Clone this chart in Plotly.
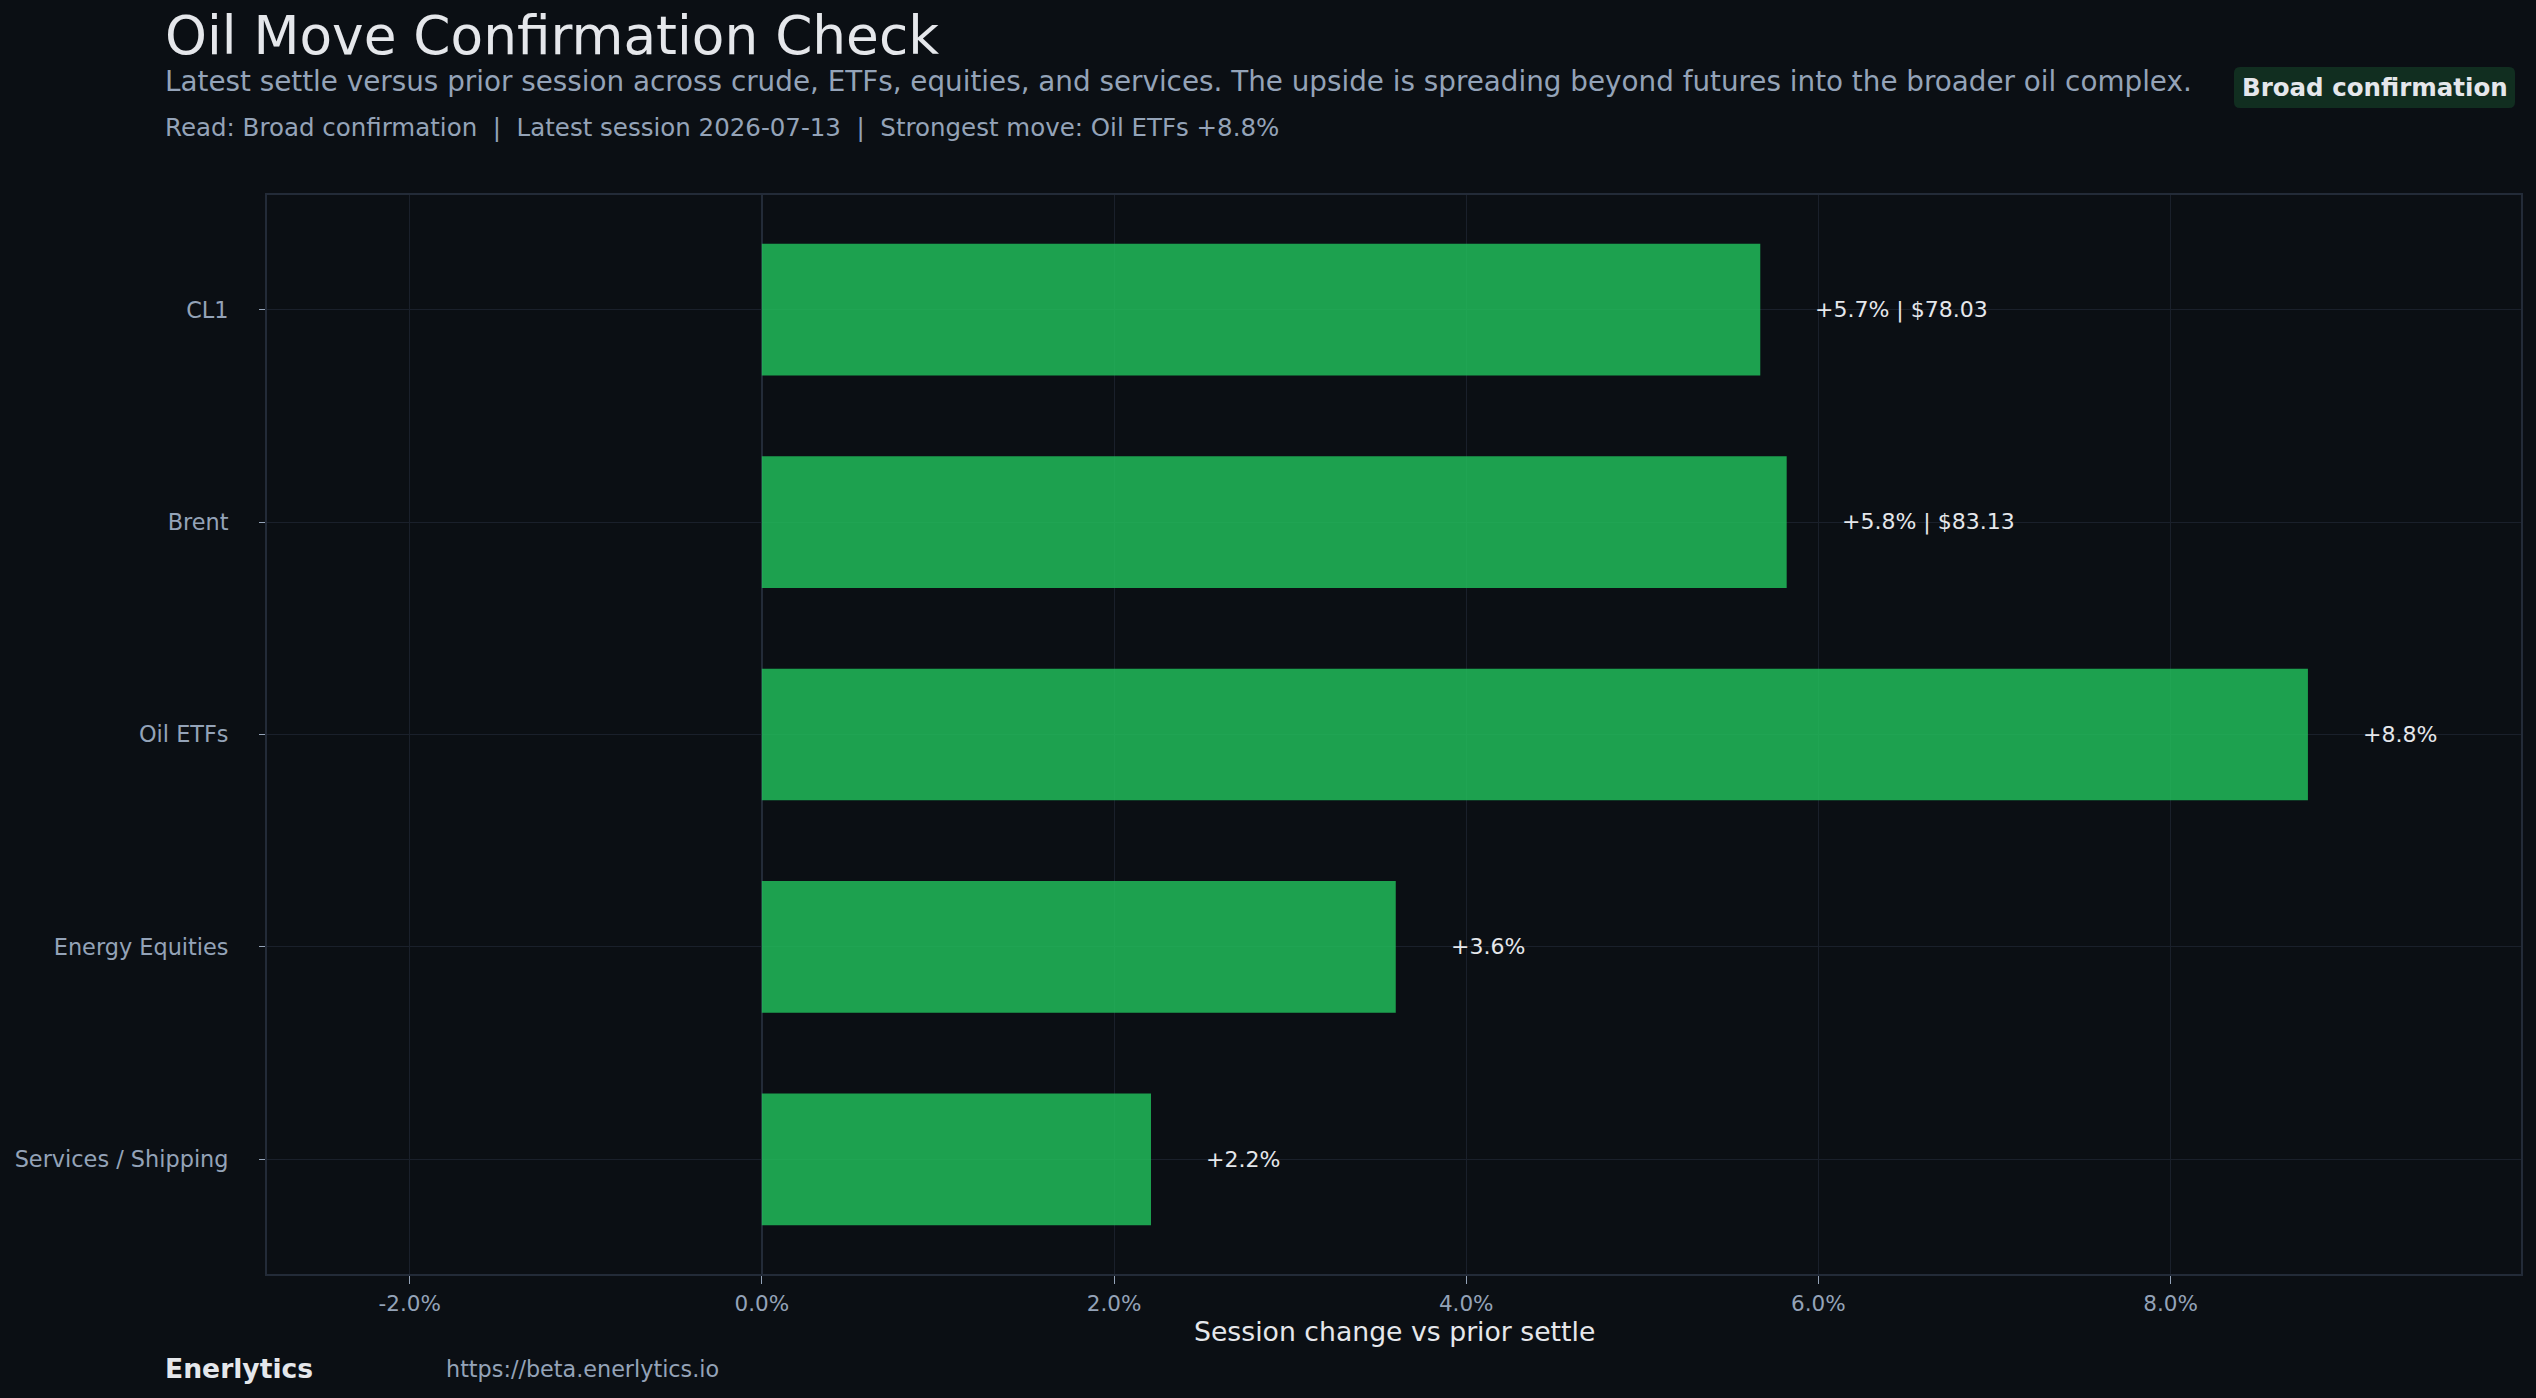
import plotly.graph_objects as go

categories = ["CL1", "Brent", "Oil ETFs", "Energy Equities", "Services / Shipping"]
changes_pct = [5.67, 5.82, 8.78, 3.60, 2.21]
bar_labels = ["+5.7% | $78.03", "+5.8% | $83.13", "+8.8%", "+3.6%", "+2.2%"]
x_tick_vals = [-2, 0, 2, 4, 6, 8]
x_tick_text = ["-2.0%", "0.0%", "2.0%", "4.0%", "6.0%", "8.0%"]

title_text = "Oil Move Confirmation Check"
subtitle_text = ("Latest settle versus prior session across crude, ETFs, equities, and services. "
                 "The upside is spreading beyond futures into the broader oil complex.")
meta_text = "Read: Broad confirmation  |  Latest session 2026-07-13  |  Strongest move: Oil ETFs +8.8%"
badge_text = "Broad confirmation"
brand_text = "Enerlytics"
url_text = "https://beta.enerlytics.io"
x_title = "Session change vs prior settle"

W, H = 2536, 1398
L, R, T, B = 267, 15, 195, 124
PW, PH = W - L - R, H - T - B

BG = "#0b0f14"
GRID = "#1a202b"
BORDER = "#232b38"
TICK = "#94a3b8"
TEXT = "#e5e7eb"
FONT = "DejaVu Sans"


def px(x):
    return (x - L) / PW


def py(y):
    return (H - B - y) / PH


fig = go.Figure()
fig.add_trace(go.Bar(
    y=categories, x=changes_pct, orientation="h",
    marker=dict(color="rgba(34,197,94,0.8)", line=dict(width=0)),
    width=0.62, hoverinfo="skip",
))

for cat, val, lab in zip(categories, changes_pct, bar_labels):
    fig.add_annotation(x=val + 0.3, y=cat, xref="x", yref="y", text=lab,
                       showarrow=False, xanchor="left", yanchor="middle",
                       font=dict(family=FONT, size=22, color=TEXT))

# header texts
fig.add_annotation(x=px(163), y=py(36), xref="paper", yref="paper", text=title_text,
                   showarrow=False, xanchor="left", yanchor="middle",
                   font=dict(family=FONT, size=53.3, color=TEXT))
fig.add_annotation(x=px(163), y=py(81), xref="paper", yref="paper", text=subtitle_text,
                   showarrow=False, xanchor="left", yanchor="middle",
                   font=dict(family=FONT, size=27.8, color=TICK))
fig.add_annotation(x=px(163), y=py(127), xref="paper", yref="paper", text=meta_text,
                   showarrow=False, xanchor="left", yanchor="middle",
                   font=dict(family=FONT, size=24.5, color=TICK))

# badge
bx0, bx1, by0, by1, r = 2234, 2515, 67, 108, 6
path = (f"M {px(bx0 + r)},{py(by0)} L {px(bx1 - r)},{py(by0)} Q {px(bx1)},{py(by0)} {px(bx1)},{py(by0 + r)} "
        f"L {px(bx1)},{py(by1 - r)} Q {px(bx1)},{py(by1)} {px(bx1 - r)},{py(by1)} "
        f"L {px(bx0 + r)},{py(by1)} Q {px(bx0)},{py(by1)} {px(bx0)},{py(by1 - r)} "
        f"L {px(bx0)},{py(by0 + r)} Q {px(bx0)},{py(by0)} {px(bx0 + r)},{py(by0)} Z")
fig.add_shape(type="path", path=path, xref="paper", yref="paper",
              fillcolor="#112e20", line=dict(width=0), layer="above")
fig.add_annotation(x=px((bx0 + bx1) / 2), y=py((by0 + by1) / 2), xref="paper", yref="paper",
                   text=f"<b>{badge_text}</b>", showarrow=False, xanchor="center", yanchor="middle",
                   font=dict(family=FONT, size=24.5, color=TEXT))

# footer
fig.add_annotation(x=px(163), y=py(1368), xref="paper", yref="paper", text=f"<b>{brand_text}</b>",
                   showarrow=False, xanchor="left", yanchor="middle",
                   font=dict(family=FONT, size=26.6, color=TEXT))
fig.add_annotation(x=px(444), y=py(1369), xref="paper", yref="paper", text=url_text,
                   showarrow=False, xanchor="left", yanchor="middle",
                   font=dict(family=FONT, size=22.3, color=TICK))
fig.add_annotation(x=0.5, y=py(1331), xref="paper", yref="paper", text=x_title,
                   showarrow=False, xanchor="center", yanchor="middle",
                   font=dict(family=FONT, size=26.7, color=TEXT))

fig.update_layout(
    width=W, height=H, margin=dict(l=L, r=R, t=T, b=B, pad=0),
    paper_bgcolor=BG, plot_bgcolor=BG, showlegend=False,
    font=dict(family=FONT, color=TICK),
    bargap=0.38,
)
fig.update_xaxes(
    range=[-2.81, 9.99], tickvals=x_tick_vals, ticktext=x_tick_text,
    showgrid=True, gridcolor=GRID, gridwidth=1,
    zeroline=True, zerolinecolor=BORDER, zerolinewidth=2,
    showline=True, linecolor=BORDER, linewidth=2, mirror=True,
    ticks="outside", ticklen=8, tickcolor=TICK, tickwidth=1,
    tickfont=dict(family=FONT, size=21.5, color=TICK), ticklabelstandoff=1,
)
fig.update_yaxes(
    categoryorder="array", categoryarray=categories, autorange=False, range=[4.54, -0.54],
    showgrid=True, gridcolor=GRID, gridwidth=1,
    showline=True, linecolor=BORDER, linewidth=2, mirror=True,
    ticks="outside", ticklen=6, tickcolor=TICK, tickwidth=1,
    tickfont=dict(family=FONT, size=22.4, color=TICK), ticklabelstandoff=26,
)

fig.write_html("out.html")
